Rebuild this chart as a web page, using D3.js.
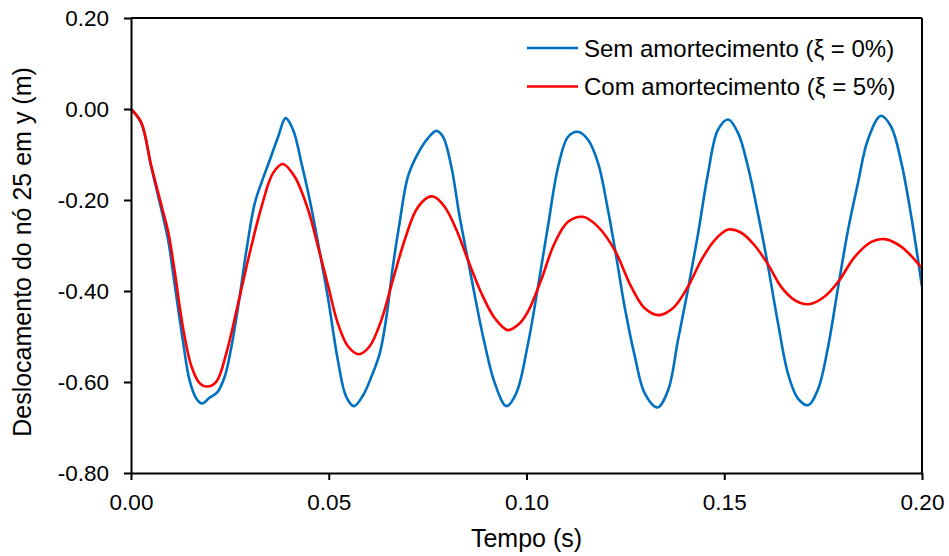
<!DOCTYPE html>
<html>
<head>
<meta charset="utf-8">
<script src="https://d3js.org/d3.v7.min.js"></script>
<style>
  body { margin: 0; background: #fff; }
  svg text { font-family: "Liberation Sans", Arial, sans-serif; fill: #000; }
</style>
</head>
<body>
<div id="chart"></div>
<script>
// Sem amortecimento (xi = 0%)
var semTempo = [0, 0.0026, 0.0051, 0.0077, 0.0094, 0.0110, 0.0131, 0.0148, 0.0165, 0.0180, 0.0199, 0.0218,
  0.0237, 0.0254, 0.0271, 0.0292, 0.0313, 0.0334, 0.0351, 0.0372, 0.0391, 0.0410, 0.0431, 0.0452, 0.0473,
  0.0498, 0.0523, 0.0544, 0.0564, 0.0587, 0.0608, 0.0629, 0.0646, 0.0662, 0.0679, 0.0700, 0.0726, 0.0751,
  0.0772, 0.0789, 0.0810, 0.0831, 0.0852, 0.0873, 0.0894, 0.0920, 0.0949, 0.0974, 0.1004, 0.1029, 0.1054,
  0.1080, 0.1105, 0.1130, 0.1156, 0.1181, 0.1206, 0.1227, 0.1248, 0.1274, 0.1299, 0.1331, 0.1358, 0.1383,
  0.1408, 0.1434, 0.1459, 0.1484, 0.1510, 0.1535, 0.1560, 0.1585, 0.1611, 0.1636, 0.1661, 0.1686, 0.1712,
  0.1737, 0.1762, 0.1788, 0.1813, 0.1838, 0.1863, 0.1896, 0.1922, 0.1948, 0.1973, 0.2000];
var semDesloc = [0, -0.031, -0.127, -0.222, -0.288, -0.383, -0.508, -0.596, -0.636, -0.647, -0.634, -0.623,
  -0.588, -0.522, -0.434, -0.310, -0.207, -0.152, -0.112, -0.061, -0.020, -0.046, -0.119, -0.200, -0.295,
  -0.415, -0.552, -0.632, -0.653, -0.629, -0.588, -0.537, -0.456, -0.347, -0.251, -0.149, -0.097, -0.064,
  -0.048, -0.061, -0.127, -0.237, -0.332, -0.427, -0.515, -0.603, -0.653, -0.625, -0.515, -0.391, -0.259,
  -0.127, -0.061, -0.050, -0.068, -0.119, -0.222, -0.325, -0.434, -0.544, -0.625, -0.656, -0.618, -0.508,
  -0.398, -0.273, -0.141, -0.046, -0.023, -0.053, -0.127, -0.229, -0.347, -0.471, -0.581, -0.636, -0.651,
  -0.616, -0.525, -0.391, -0.266, -0.163, -0.068, -0.015, -0.039, -0.119, -0.237, -0.391];

// Com amortecimento (xi = 5%)
var comTempo = [0, 0.0026, 0.0051, 0.0077, 0.0094, 0.0110, 0.0131, 0.0153, 0.0174, 0.0193, 0.0216, 0.0241,
  0.0271, 0.0300, 0.0330, 0.0359, 0.0384, 0.0414, 0.0448, 0.0473, 0.0498, 0.0523, 0.0549, 0.0576, 0.0603,
  0.0633, 0.0662, 0.0692, 0.0721, 0.0751, 0.0766, 0.0793, 0.0823, 0.0852, 0.0886, 0.0920, 0.0953, 0.0983,
  0.1004, 0.1037, 0.1071, 0.1105, 0.1143, 0.1181, 0.1223, 0.1265, 0.1299, 0.1334, 0.1370, 0.1408, 0.1442,
  0.1476, 0.1510, 0.1543, 0.1577, 0.1611, 0.1644, 0.1678, 0.1714, 0.1754, 0.1788, 0.1830, 0.1872, 0.1906,
  0.1948, 0.2000];
var comDesloc = [0, -0.030, -0.124, -0.212, -0.270, -0.354, -0.478, -0.566, -0.603, -0.610, -0.599, -0.537,
  -0.427, -0.317, -0.215, -0.141, -0.121, -0.149, -0.222, -0.303, -0.387, -0.471, -0.522, -0.539, -0.522,
  -0.464, -0.376, -0.288, -0.222, -0.194, -0.193, -0.215, -0.266, -0.332, -0.405, -0.460, -0.486, -0.471,
  -0.445, -0.376, -0.295, -0.248, -0.237, -0.259, -0.310, -0.391, -0.438, -0.453, -0.438, -0.391, -0.332,
  -0.288, -0.265, -0.272, -0.300, -0.342, -0.391, -0.420, -0.429, -0.412, -0.380, -0.325, -0.292, -0.286,
  -0.303, -0.350];

var xTicks = [0, 0.05, 0.10, 0.15, 0.20];
var yTicks = [0.20, 0.00, -0.20, -0.40, -0.60, -0.80];

var series = [
  { nome: "Sem amortecimento (\u03BE = 0%)", tempo: semTempo, desloc: semDesloc, cor: "#0070C0" },
  { nome: "Com amortecimento (\u03BE = 5%)", tempo: comTempo, desloc: comDesloc, cor: "#FF0000" }
];

var W = 949, H = 556;
var margin = { top: 18, right: 27, bottom: 83, left: 131 };
var w = W - margin.left - margin.right, h = H - margin.top - margin.bottom;

var svg = d3.select("#chart").append("svg").attr("width", W).attr("height", H);
var g = svg.append("g").attr("transform", "translate(" + margin.left + "," + margin.top + ")");

var x = d3.scaleLinear().domain([0, 0.2]).range([0, w]);
var y = d3.scaleLinear().domain([-0.8, 0.2]).range([h, 0]);

// Excel style number labels with a plain hyphen
var fmt = function(d) { return d3.format(".2f")(d).replace("\u2212", "-"); };

var line = d3.line()
  .x(function(d) { return x(d[0]); })
  .y(function(d) { return y(d[1]); })
  .curve(d3.curveCatmullRom.alpha(0.5));

series.forEach(function(s) {
  var pts = d3.zip(s.tempo, s.desloc);
  g.append("path").datum(pts)
    .attr("fill", "none")
    .attr("stroke", s.cor)
    .attr("stroke-width", 2.6)
    .attr("stroke-linejoin", "round")
    .attr("d", line);
});

// frame top/right
g.append("line").attr("x1", 0).attr("x2", w).attr("y1", 0).attr("y2", 0)
  .attr("stroke", "#000").attr("stroke-width", 2);
g.append("line").attr("x1", w).attr("x2", w).attr("y1", 0).attr("y2", h)
  .attr("stroke", "#000").attr("stroke-width", 2);

var xAxis = g.append("g").attr("transform", "translate(0," + h + ")")
  .call(d3.axisBottom(x).tickValues(xTicks).tickSize(7).tickSizeOuter(0).tickFormat(fmt));
var yAxis = g.append("g")
  .call(d3.axisLeft(y).tickValues(yTicks).tickSize(7).tickSizeOuter(0).tickFormat(fmt));

[xAxis, yAxis].forEach(function(a) {
  a.select(".domain").attr("stroke", "#000").attr("stroke-width", 2);
  a.selectAll(".tick line").attr("stroke", "#000").attr("stroke-width", 2);
  a.selectAll(".tick text").style("font-size", "22.5px").attr("fill", "#000")
    .style("font-family", "'Liberation Sans', Arial, sans-serif");
});
xAxis.selectAll(".tick text").attr("dy", "0.71em").attr("y", 21);
yAxis.selectAll(".tick text").attr("x", -22);

// axis titles
svg.append("text")
  .attr("x", margin.left + w / 2).attr("y", 547)
  .attr("text-anchor", "middle").style("font-size", "25px")
  .text("Tempo (s)");
svg.append("text")
  .attr("transform", "translate(31," + 252 + ") rotate(-90)")
  .attr("text-anchor", "middle").style("font-size", "25px")
  .text("Deslocamento do n\u00F3 25 em y (m)");

// legend
var leg = svg.append("g").attr("transform", "translate(527,48)");
series.forEach(function(s, i) {
  var row = leg.append("g").attr("transform", "translate(0," + (i * 38.5) + ")");
  row.append("line").attr("x1", 0).attr("x2", 51).attr("y1", 0).attr("y2", 0)
    .attr("stroke", s.cor).attr("stroke-width", 2.6);
  row.append("text").attr("x", 57).attr("y", 8.5).style("font-size", "24px").text(s.nome);
});
</script>
</body>
</html>
